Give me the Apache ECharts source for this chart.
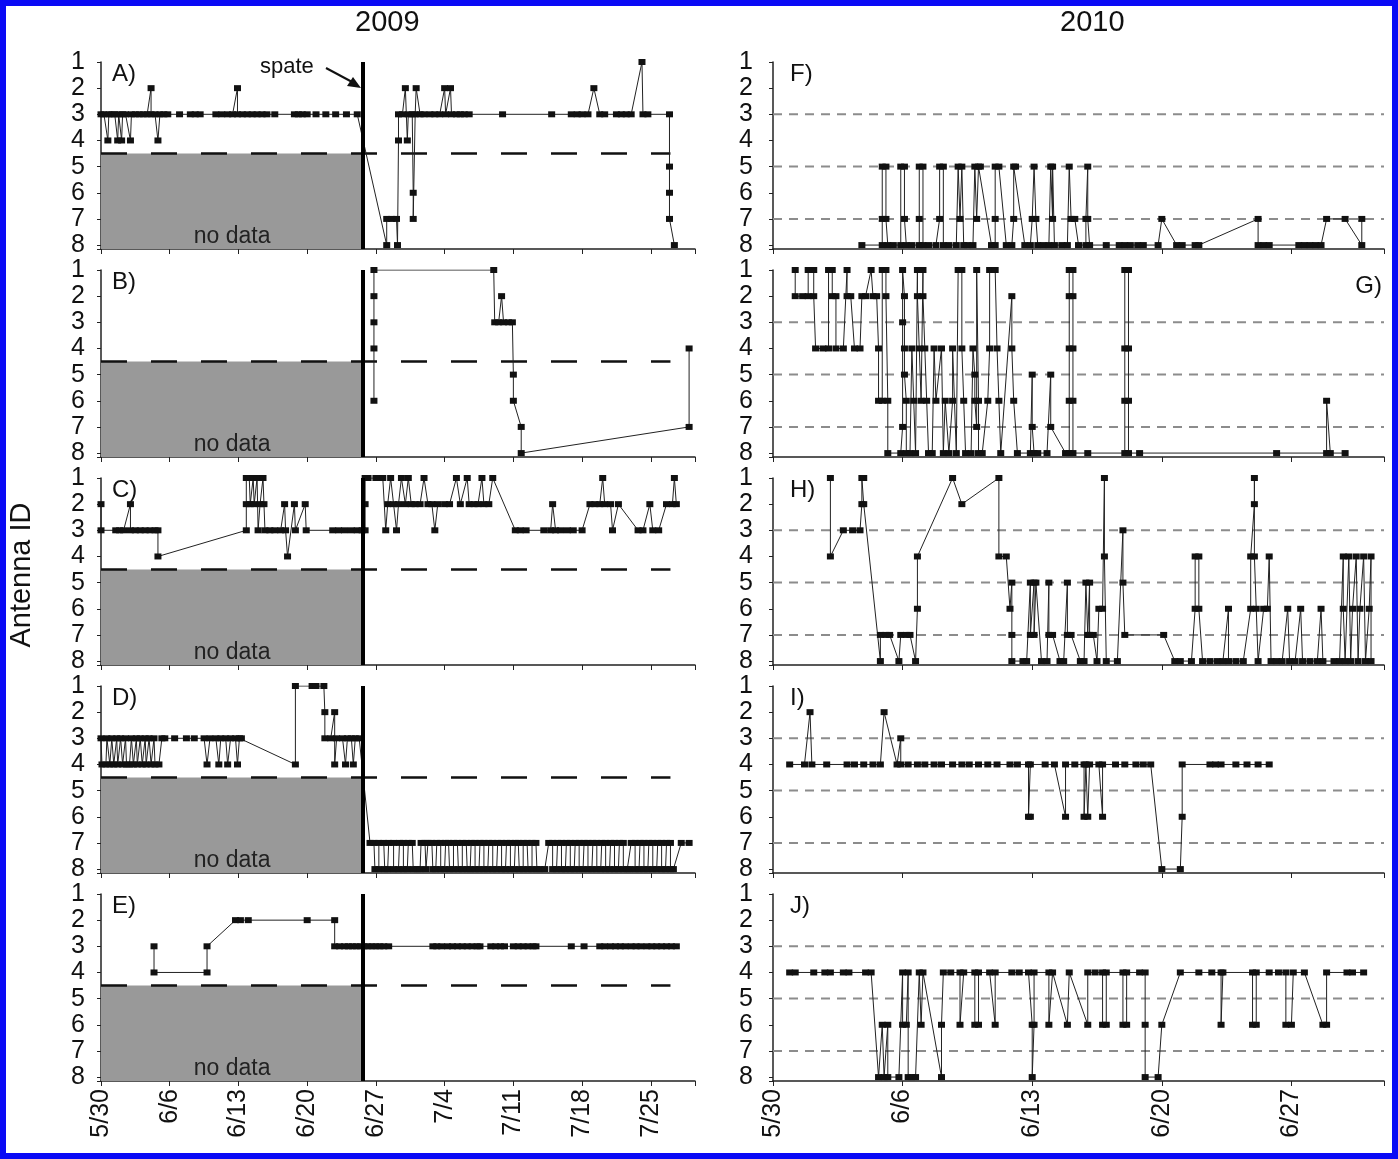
<!DOCTYPE html>
<html>
<head>
<meta charset="utf-8">
<script src="https://cdn.jsdelivr.net/npm/echarts@6/dist/echarts.min.js"></script>
<style>
  body { margin: 0; background: #fff; }
  #chart { width: 1398px; height: 1159px; }
</style>
</head>
<body>
<div id="chart"></div>
<script>
// x values are days counted from 5/30, y values are antenna IDs (1..8)
const leftTicks = ['5/30', '6/6', '6/13', '6/20', '6/27', '7/4', '7/11', '7/18', '7/25'];
const rightTicks = ['5/30', '6/6', '6/13', '6/20', '6/27'];
const spateDay = 26.7;   // 2009 spate
const leftMaxDay = 60.5;
const rightMaxDay = 33;
const boundaryLevel = 4.5;       // black dashed line, 2009
const boundaryEndDay = 58;
const refLevels = [3, 5, 7];     // grey dashed lines, 2010

// 2009
const panelA = [[0,3],[0.3,3],[0.7,4],[0.8,3],[1.1,3],[1.4,3],[1.7,4],[1.8,3],[2.1,4],[2.2,3],[2.5,3],[3.0,4],[3.1,3],[3.5,3],[3.9,3],[4.3,3],[4.7,3],[5.1,2],[5.1,3],[5.5,3],[5.8,4],[6.0,3],[6.4,3],[6.8,3],[8.0,3],[9.1,3],[9.6,3],[10.1,3],[11.7,3],[12.3,3],[12.9,3],[13.4,3],[13.9,2],[13.9,3],[14.4,3],[14.9,3],[15.4,3],[15.9,3],[16.4,3],[16.9,3],[17.7,3],[19.7,3],[20.1,3],[20.5,3],[21.0,3],[21.9,3],[22.9,3],[23.9,3],[25.0,3],[26.1,3],
  [29.1,8],[29.1,7],[29.6,7],[30.1,7],[30.2,8],[30.3,4],[30.3,3],[30.7,3],[31.0,2],[31.2,4],[31.3,3],[31.7,3],[31.8,6],[31.8,7],[32.0,3],[32.1,2],[32.5,3],[32.9,3],[33.5,3],[34.0,3],[34.5,3],[35.0,2],[35.1,3],[35.6,2],[35.7,3],[36.2,3],[36.6,3],[37.0,3],[37.5,3],[40.9,3],[45.9,3],[47.9,3],[48.5,3],[49.0,3],[49.6,3],[50.2,2],[50.8,3],[51.3,3],[52.5,3],[53.0,3],[53.5,3],[54.0,3],[55.1,1],[55.2,3],[55.7,3],[57.9,3],[57.9,5],[57.9,6],[57.9,7],[58.4,8]];
const panelB = [[27.8,6],[27.8,4],[27.8,3],[27.8,2],[27.8,1],[40.0,1],[40.1,3],[40.5,3],[40.8,2],[41.0,3],[41.5,3],[41.9,3],[42.0,5],[42.0,6],[42.8,7],[42.8,8],[59.9,7],[59.9,4]];
const panelC = [[0,2],[0,3],[1.5,3],[1.9,3],[2.3,3],[3.0,2],[3.0,3],[3.5,3],[4.0,3],[4.5,3],[5.0,3],[5.5,3],[5.8,3],[5.8,4],[14.8,3],[14.8,2],[14.8,1],[15.1,1],[15.2,2],[15.5,1],[15.6,2],[15.9,1],[16.0,3],[16.2,2],[16.5,1],[16.6,2],[16.7,3],[17.2,3],[17.7,3],[18.3,3],[18.7,2],[18.8,3],[19.0,4],[19.7,2],[19.8,3],[20.8,2],[20.9,3],[23.6,3],[24.2,3],[24.8,3],[25.5,3],[26.1,3],[26.6,3],
  [26.9,3],[26.9,2],[26.9,1],[27.2,1],[28.0,1],[28.3,1],[28.7,1],[29.0,3],[29.2,2],[29.5,1],[29.8,2],[30.1,3],[30.3,2],[30.6,1],[31.0,2],[31.3,1],[31.6,2],[32.0,2],[32.5,2],[32.9,1],[33.3,2],[33.7,2],[34.0,3],[34.3,2],[35.0,2],[35.5,2],[36.2,1],[36.6,2],[37.3,1],[37.5,2],[38.0,2],[38.4,2],[38.8,1],[39.0,2],[39.5,2],[39.9,1],[42.2,3],[42.7,3],[43.3,3],[45.1,3],[45.8,3],[46.0,2],[46.3,3],[46.8,3],[47.5,3],[48.1,3],[49.0,3],[49.8,2],[50.3,2],[50.8,2],[51.1,1],[51.3,2],[51.9,2],[52.1,3],[52.7,2],[54.7,3],[55.2,3],[55.9,2],[56.2,3],[56.8,3],[57.6,2],[58.2,2],[58.4,1],[58.6,2]];
const panelD = [[0,3],[0.1,4],[0.5,4],[0.6,3],[0.9,4],[1.1,3],[1.3,4],[1.6,3],[1.7,4],[2.0,3],[2.2,4],[2.5,3],[2.6,4],[2.9,4],[3.1,3],[3.3,4],[3.6,3],[3.7,4],[4.0,3],[4.2,4],[4.5,3],[4.6,4],[4.9,3],[5.1,4],[5.4,3],[5.5,4],[5.9,4],[6.2,3],[6.5,3],[7.5,3],[8.7,3],[9.5,3],[10.5,3],[10.8,4],[11.1,3],[11.7,3],[12.0,4],[12.2,3],[12.7,3],[12.9,4],[13.2,3],[13.7,3],[13.9,4],[14.1,3],[14.3,3],[19.8,4],[19.8,1],[21.5,1],[21.9,1],[22.7,1],[22.8,2],[22.8,3],[23.4,3],[23.8,2],[23.8,4],[24.0,3],[24.6,3],[24.9,4],[25.1,3],[25.5,3],[25.7,4],[25.9,3],[26.3,3],
  [27.4,7],[27.8,7],[27.9,8],[28.3,8],[28.3,7],[28.8,7],[28.9,8],[29.2,8],[29.3,7],[29.8,7],[29.8,8],[30.3,8],[30.4,7],[30.8,7],[30.8,8],[31.2,8],[31.3,7],[31.7,7],[31.8,8],[32.2,8],[32.5,8],[32.6,7],[33.0,7],[33.1,8],[33.3,7],[33.7,7],[33.8,8],[34.1,8],[34.2,7],[34.6,7],[34.6,8],[35.0,8],[35.1,7],[35.4,7],[35.5,8],[35.9,8],[35.9,7],[36.3,7],[36.4,8],[36.8,8],[36.8,7],[37.2,7],[37.3,8],[37.6,8],[37.7,7],[38.1,7],[38.1,8],[38.5,8],[38.6,7],[39.0,7],[39.0,8],[39.4,8],[39.5,7],[39.9,7],[39.9,8],[40.3,8],[40.4,7],[40.8,7],[40.8,8],[41.2,8],[41.3,7],[41.7,7],[41.7,8],[42.1,8],[42.2,7],[42.5,7],[42.6,8],[43.0,8],[43.0,7],[43.4,7],[43.5,8],[43.9,8],[43.9,7],[44.3,7],[44.4,8],[44.7,8],[45.2,8],[45.6,7],[46.0,7],[46.0,8],[46.4,8],[46.5,7],[46.9,7],[46.9,8],[47.3,8],[47.4,7],[47.8,7],[47.8,8],[48.2,8],[48.3,7],[48.7,7],[48.7,8],[49.1,8],[49.2,7],[49.6,7],[49.6,8],[50.0,8],[50.1,7],[50.5,7],[50.5,8],[50.9,8],[51.0,7],[51.4,7],[51.4,8],[51.8,8],[51.9,7],[52.3,7],[52.3,8],[52.7,8],[52.8,7],[53.2,7],[53.2,8],[53.6,8],[53.8,8],[54.0,7],[54.4,7],[54.4,8],[54.8,8],[54.9,7],[55.3,7],[55.3,8],[55.7,8],[55.8,7],[56.2,7],[56.2,8],[56.6,8],[56.7,7],[57.1,7],[57.1,8],[57.5,8],[57.6,7],[58.0,7],[58.0,8],[58.3,8],[59.1,7],[59.9,7]];
const panelE = [[5.4,3],[5.4,4],[10.8,4],[10.8,3],[13.7,2],[14.2,2],[15.0,2],[21.0,2],[23.8,2],[23.8,3],[24.3,3],[24.8,3],[25.2,3],[25.6,3],[26.0,3],[26.4,3],[26.8,3],[27.2,3],[27.6,3],[28.0,3],[28.4,3],[28.8,3],[29.3,3],[33.8,3],[34.2,3],[34.7,3],[35.3,3],[35.8,3],[36.3,3],[36.8,3],[37.3,3],[37.8,3],[38.3,3],[38.6,3],[39.7,3],[40.2,3],[40.7,3],[41.1,3],[42.0,3],[42.5,3],[43.0,3],[43.5,3],[44.0,3],[44.3,3],[47.9,3],[49.2,3],[50.8,3],[51.3,3],[51.9,3],[52.4,3],[52.9,3],[53.4,3],[54.0,3],[54.5,3],[55.0,3],[55.6,3],[56.1,3],[56.6,3],[57.1,3],[57.6,3],[58.1,3],[58.6,3]];

// 2010
const panelF = [[4.8,8],[5.9,8],[5.9,7],[5.9,5],[6.1,5],[6.1,7],[6.2,8],[6.5,8],[6.9,8],[6.9,5],[7.1,5],[7.1,7],[7.2,8],[7.5,8],[7.9,8],[7.9,7],[7.9,5],[8.1,5],[8.1,8],[8.4,8],[8.8,8],[9.0,7],[9.0,5],[9.2,5],[9.2,8],[9.5,8],[9.9,8],[10.0,5],[10.1,7],[10.2,5],[10.3,8],[10.5,8],[10.8,8],[10.9,5],[11.0,7],[11.1,5],[11.2,5],[11.8,8],[12.0,8],[12.0,7],[12.0,5],[12.2,5],[12.6,8],[12.9,8],[13.0,7],[13.0,5],[13.1,5],[13.6,8],[13.9,8],[14.0,7],[14.1,5],[14.2,7],[14.3,8],[14.6,8],[14.9,8],[15.0,5],[15.1,7],[15.1,5],[15.2,8],[15.6,8],[15.9,8],[16.0,5],[16.1,7],[16.3,7],[16.5,8],[16.9,8],[16.9,7],[17.0,5],[17.0,7],[17.1,8],[18.0,8],[18.7,8],[19.0,8],[19.3,8],[19.7,8],[20.0,8],[20.8,8],[21.0,7],[21.8,8],[22.1,8],[22.8,8],[23.0,8],[26.2,7],[26.2,8],[26.5,8],[26.8,8],[28.4,8],[28.7,8],[29.0,8],[29.3,8],[29.6,8],[29.9,7],[30.9,7],[31.8,8],[31.8,7]];
const panelG = [[1.2,1],[1.2,2],[1.6,2],[1.9,2],[1.9,1],[2.2,1],[2.2,2],[2.3,4],[2.7,4],[3.0,4],[3.0,1],[3.2,1],[3.2,2],[3.4,2],[3.4,4],[3.8,4],[4.0,1],[4.0,2],[4.2,2],[4.4,4],[4.7,4],[4.8,2],[5.0,2],[5.3,1],[5.4,2],[5.6,2],[5.7,4],[5.7,6],[5.9,6],[5.9,1],[6.1,1],[6.1,2],[6.2,6],[6.2,8],[6.9,8],[7.0,7],[7.0,3],[7.0,1],[7.1,2],[7.1,4],[7.1,5],[7.2,6],[7.2,8],[7.4,8],[7.5,4],[7.6,6],[7.7,8],[7.8,1],[7.8,2],[7.9,4],[8.0,6],[8.1,1],[8.1,2],[8.2,4],[8.3,6],[8.4,8],[8.6,8],[8.7,4],[8.8,6],[9.1,4],[9.2,8],[9.3,6],[9.5,8],[9.7,6],[9.7,4],[9.9,8],[10.0,1],[10.2,1],[10.2,4],[10.3,6],[10.4,8],[10.7,8],[10.8,4],[10.9,5],[10.9,6],[11.0,7],[11.0,1],[11.1,6],[11.1,8],[11.3,8],[11.6,6],[11.7,4],[11.7,1],[12.0,1],[12.1,4],[12.2,6],[12.3,8],[12.9,2],[12.9,4],[13.0,6],[13.2,8],[13.9,8],[14.0,5],[14.0,7],[14.1,8],[14.3,8],[14.8,8],[15.0,5],[15.0,7],[15.8,8],[16.0,8],[16.0,6],[16.0,4],[16.0,2],[16.0,1],[16.2,1],[16.2,2],[16.2,4],[16.2,6],[16.2,8],[17.0,8],[19.0,8],[19.0,6],[19.0,4],[19.0,1],[19.2,1],[19.2,4],[19.2,6],[19.2,8],[19.8,8],[27.2,8],[29.9,8],[29.9,6],[30.1,8],[30.9,8]];
const panelH = [[3.1,1],[3.1,4],[3.8,3],[4.3,3],[4.7,3],[4.8,2],[4.8,1],[4.9,1],[4.9,2],[5.8,8],[5.8,7],[6.1,7],[6.3,7],[6.8,8],[6.9,7],[7.2,7],[7.4,7],[7.7,8],[7.8,6],[7.8,4],[9.7,1],[10.2,2],[12.2,1],[12.2,4],[12.6,4],[12.8,6],[12.9,5],[12.9,7],[12.9,8],[13.5,8],[13.7,8],[13.9,5],[13.9,7],[14.1,5],[14.1,7],[14.2,5],[14.5,8],[14.8,8],[14.9,5],[14.9,7],[15.1,7],[15.5,8],[15.7,8],[15.9,5],[15.9,7],[16.1,7],[16.6,8],[16.8,8],[16.9,5],[17.0,7],[17.1,5],[17.1,7],[17.3,7],[17.5,8],[17.6,6],[17.8,6],[17.9,1],[17.9,4],[18.0,8],[18.6,8],[18.9,3],[18.9,5],[19.0,7],[21.1,7],[21.7,8],[22.0,8],[22.6,8],[22.8,6],[22.8,4],[23.0,4],[23.0,6],[23.2,8],[23.6,8],[24.0,8],[24.3,8],[24.6,6],[24.6,8],[25.0,8],[25.4,8],[25.8,6],[25.8,4],[26.0,2],[26.0,1],[26.0,4],[26.1,6],[26.2,8],[26.5,6],[26.7,6],[26.8,4],[26.9,8],[27.2,8],[27.5,8],[27.8,6],[27.9,8],[28.2,8],[28.5,6],[28.6,8],[29.0,8],[29.4,8],[29.6,6],[29.7,8],[30.3,8],[30.6,8],[30.8,4],[30.8,6],[30.9,8],[31.1,4],[31.2,8],[31.3,6],[31.5,4],[31.6,8],[31.7,6],[31.9,4],[32.0,8],[32.2,6],[32.3,4],[32.3,8]];
const panelI = [[0.9,4],[1.7,4],[2.0,2],[2.1,4],[2.9,4],[4.0,4],[4.4,4],[4.9,4],[5.4,4],[5.8,4],[6.0,2],[6.7,4],[6.9,3],[6.9,4],[7.3,4],[7.8,4],[8.2,4],[8.7,4],[9.1,4],[9.7,4],[10.2,4],[10.6,4],[11.1,4],[11.6,4],[12.1,4],[12.8,4],[13.2,4],[13.8,4],[13.8,6],[13.9,6],[13.9,4],[14.7,4],[15.2,4],[15.8,6],[15.8,4],[16.3,4],[16.8,4],[16.8,6],[16.9,4],[17.0,6],[17.1,4],[17.6,4],[17.8,6],[17.8,4],[18.5,4],[19.0,4],[19.6,4],[20.0,4],[20.4,4],[21.0,8],[22.0,8],[22.1,6],[22.1,4],[23.6,4],[23.9,4],[24.2,4],[25.0,4],[25.6,4],[26.2,4],[26.8,4]];
const panelJ = [[0.9,4],[1.2,4],[2.2,4],[2.8,4],[3.1,4],[3.8,4],[4.1,4],[5.0,4],[5.3,4],[5.7,8],[5.9,6],[6.0,8],[6.2,6],[6.2,8],[6.8,8],[7.0,4],[7.0,6],[7.2,6],[7.3,4],[7.3,8],[7.5,8],[7.7,8],[7.9,4],[8.0,6],[8.1,4],[9.1,8],[9.1,6],[9.2,4],[9.6,4],[10.1,4],[10.1,6],[10.3,4],[10.9,4],[10.9,6],[11.1,6],[11.1,4],[11.7,4],[12.0,6],[12.0,4],[12.9,4],[13.3,4],[13.8,4],[14.0,6],[14.0,8],[14.1,6],[14.1,4],[14.9,4],[14.9,6],[15.1,4],[15.9,6],[16.0,4],[17.0,6],[17.0,4],[17.4,4],[17.8,4],[17.8,6],[18.0,6],[18.0,4],[18.9,4],[18.9,6],[19.1,6],[19.1,4],[19.8,4],[20.1,4],[20.1,6],[20.1,8],[20.8,8],[21.0,6],[22.0,4],[23.0,4],[23.7,4],[24.2,4],[24.2,6],[24.3,4],[25.9,4],[25.9,6],[26.1,6],[26.1,4],[26.8,4],[27.3,4],[27.7,4],[27.7,6],[28.0,6],[28.1,4],[28.7,4],[29.7,6],[29.9,6],[29.9,4],[31.0,4],[31.3,4],[31.9,4]];

const panels = [
  { name: 'A)', data: panelA, col: 0, row: 0 },
  { name: 'B)', data: panelB, col: 0, row: 1 },
  { name: 'C)', data: panelC, col: 0, row: 2 },
  { name: 'D)', data: panelD, col: 0, row: 3 },
  { name: 'E)', data: panelE, col: 0, row: 4 },
  { name: 'F)', data: panelF, col: 1, row: 0 },
  { name: 'G)', data: panelG, col: 1, row: 1 },
  { name: 'H)', data: panelH, col: 1, row: 2 },
  { name: 'I)', data: panelI, col: 1, row: 3 },
  { name: 'J)', data: panelJ, col: 1, row: 4 }
];

const FONT = '"Liberation Sans", Arial, sans-serif';
const colLeft = [101, 773];
const colWidth = [594, 611];
const rowTop = [62, 270, 478, 686, 894];
const gridH = 187;
const yMax = 8.15;

const chart = echarts.init(document.getElementById('chart'));

let grid = [], xAxis = [], yAxis = [], series = [], graphic = [];

panels.forEach(function (p, i) {
  const left = p.col === 0;
  const ticks = left ? leftTicks : rightTicks;
  grid.push({ left: colLeft[p.col], top: rowTop[p.row], width: colWidth[p.col], height: gridH });
  xAxis.push({
    type: 'value', gridIndex: i, min: 0, max: left ? leftMaxDay : rightMaxDay, interval: 7,
    axisLine: { lineStyle: { color: '#222', width: 1.5 } },
    axisTick: { show: true, length: 5, lineStyle: { color: '#222' } },
    splitLine: { show: false },
    axisLabel: {
      show: p.row === 4, rotate: 90, margin: 8, fontSize: 25, fontFamily: FONT, color: '#111',
      formatter: function (v) { return (v % 7 === 0) ? (ticks[v / 7] || '') : ''; }
    }
  });
  yAxis.push({
    type: 'value', gridIndex: i, min: 1, max: yMax, interval: 1, inverse: true,
    axisLine: { show: true, lineStyle: { color: '#222', width: 1.5 } },
    axisTick: { show: true, length: 4, lineStyle: { color: '#222' } },
    splitLine: { show: false },
    axisLabel: {
      margin: left ? 16 : 20, fontSize: 25, fontFamily: FONT, color: '#111',
      formatter: function (v) { return Number.isInteger(v) ? String(v) : ''; }
    }
  });

  if (left) {
    // grey "no data" block under the black dashed boundary
    series.push({
      type: 'line', xAxisIndex: i, yAxisIndex: i, data: [], z: 1,
      markArea: {
        silent: true,
        itemStyle: { color: '#999999' },
        label: { show: true, position: 'insideBottom', distance: 1, fontSize: 23, fontFamily: FONT, color: '#222' },
        data: [[{ name: 'no data', xAxis: 0, yAxis: boundaryLevel }, { xAxis: spateDay, yAxis: yMax }]]
      }
    });
    series.push({
      type: 'line', xAxisIndex: i, yAxisIndex: i, z: 2, symbol: 'none', silent: true,
      data: [[0, boundaryLevel], [boundaryEndDay, boundaryLevel]],
      lineStyle: { color: '#111', width: 2.5, type: [26, 24] }
    });
  } else {
    refLevels.forEach(function (lv) {
      series.push({
        type: 'line', xAxisIndex: i, yAxisIndex: i, z: 1, symbol: 'none', silent: true,
        data: [[0, lv], [rightMaxDay, lv]],
        lineStyle: { color: '#8c8c8c', width: 2, type: [9, 7] }
      });
    });
  }

  series.push({
    type: 'line', xAxisIndex: i, yAxisIndex: i, data: p.data, z: 3,
    symbol: 'rect', symbolSize: [7, 6], showSymbol: true,
    lineStyle: { color: '#222', width: 1 },
    itemStyle: { color: '#111', borderWidth: 0 },
    markLine: left ? {
      silent: true, symbol: 'none', label: { show: false },
      lineStyle: { color: '#000', width: 4, type: 'solid' },
      data: [{ xAxis: spateDay }]
    } : undefined
  });

  // panel letter
  const isG = p.name === 'G)';
  graphic.push({
    type: 'text',
    left: isG ? undefined : colLeft[p.col] + (left ? 11 : 17),
    right: isG ? 1398 - (colLeft[p.col] + colWidth[p.col]) + 2 : undefined,
    top: rowTop[p.row] + (isG ? 4 : 0),
    style: { text: p.name, fontSize: 24, fontFamily: FONT, fill: '#111' }
  });
});

// titles, axis name, spate annotation, frame
graphic.push(
  { type: 'text', left: 355, top: 8, style: { text: '2009', fontSize: 29, fontFamily: FONT, fill: '#111' } },
  { type: 'text', left: 1060, top: 8, style: { text: '2010', fontSize: 29, fontFamily: FONT, fill: '#111' } },
  { type: 'text', x: 22, y: 575, rotation: Math.PI / 2,
    style: { text: 'Antenna ID', fontSize: 29, fontFamily: FONT, fill: '#111', align: 'center', verticalAlign: 'middle' } },
  { type: 'text', left: 260, top: 56, style: { text: 'spate', fontSize: 22, fontFamily: FONT, fill: '#111' } },
  { type: 'line', shape: { x1: 326, y1: 68, x2: 354, y2: 83 }, style: { stroke: '#111', lineWidth: 2 } },
  { type: 'polygon', shape: { points: [[361, 88], [347, 86], [353, 77]] }, style: { fill: '#111' } },
  { type: 'rect', shape: { x: 3, y: 3, width: 1392, height: 1153 }, style: { fill: 'none', stroke: '#0a0af5', lineWidth: 6 }, z: 100 }
);

const option = {
  animation: false,
  backgroundColor: '#fff',
  grid: grid,
  xAxis: xAxis,
  yAxis: yAxis,
  series: series,
  graphic: graphic
};
chart.setOption(option);
</script>
</body>
</html>
